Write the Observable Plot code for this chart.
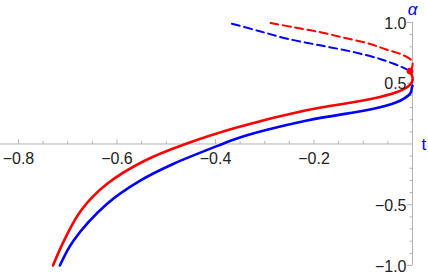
<!DOCTYPE html>
<html>
<head>
<meta charset="utf-8">
<script src="https://cdn.jsdelivr.net/npm/d3@7"></script>
<script src="https://cdn.jsdelivr.net/npm/@observablehq/plot@0.6"></script>
<style>
  html, body { margin: 0; padding: 0; background: white; }
</style>
</head>
<body>
<div id="chart"></div>
<script>
// ---- data (alpha, t) ----
const redSolidA = [-1.0, -0.767, -0.547, -0.328, -0.136, 0.0, 0.138, 0.276, 0.372, 0.43, 0.467, 0.509, 0.55, 0.6];
const redSolidT = [-0.730, -0.704, -0.673, -0.620, -0.543, -0.461, -0.355, -0.218, -0.082, -0.030, -0.011, -0.001, 0.000, -0.005];

const redDashA = [0.6, 0.63, 0.67, 0.70, 0.74, 0.78, 0.825, 0.87, 0.92, 0.96, 0.995];
const redDashT = [-0.005, -0.001, 0.000, -0.005, -0.024, -0.055, -0.087, -0.135, -0.187, -0.240, -0.288];

const blueSolidA = [-1.0, -0.794, -0.492, -0.300, -0.163, 0.0, 0.056, 0.193, 0.290, 0.34, 0.372, 0.42, 0.467, 0.48];
const blueSolidT = [-0.716, -0.688, -0.620, -0.552, -0.485, -0.386, -0.349, -0.214, -0.079, -0.035, -0.018, -0.004, -0.001, 0.000];

const blueDashA = [0.605, 0.63, 0.66, 0.70, 0.756, 0.81, 0.866, 0.93, 0.994];
const blueDashT = [-0.008, -0.020, -0.038, -0.066, -0.119, -0.185, -0.254, -0.312, -0.370];

const markA = [0.6];
const markT = [-0.005];

const xMajor = [-0.8, -0.6, -0.4, -0.2];
const xLabels = ["\u22120.8", "\u22120.6", "\u22120.4", "\u22120.2"];
const xMinor = [-0.75, -0.7, -0.65, -0.55, -0.5, -0.45, -0.35, -0.3, -0.25, -0.15, -0.1, -0.05];
const yMajor = [-1.0, -0.5, 0.5, 1.0];
const yLabels = ["\u22121.0", "\u22120.5", "0.5", "1.0"];
const yMinor = [-0.9, -0.8, -0.7, -0.6, -0.4, -0.3, -0.2, -0.1, 0.1, 0.2, 0.3, 0.4, 0.6, 0.7, 0.8, 0.9];

const xDomain = [-0.8365, 0.0325];
const yDomain = [-1.099, 1.181];

const toPts = (A, T) => A.map((a, i) => ({a, t: T[i]}));

const tickUp = {draw(ctx, size) { const r = Math.sqrt(size / Math.PI); ctx.moveTo(0, 0); ctx.lineTo(0, -r); }};
const tickLeft = {draw(ctx, size) { const r = Math.sqrt(size / Math.PI); ctx.moveTo(0, 0); ctx.lineTo(-r, 0); }};

const axisColor = "#b3b3b3";
const labelColor = "#222";

const chart = Plot.plot({
  width: 428,
  height: 277,
  margin: 0,
  x: {domain: xDomain, axis: null},
  y: {domain: yDomain, axis: null},
  style: {fontFamily: "'Liberation Sans', Arial, sans-serif", fontSize: "16px", background: "white"},
  marks: [
    Plot.ruleY([0], {x1: xDomain[0], x2: 0, stroke: axisColor, strokeWidth: 1}),
    Plot.ruleX([0], {y1: yMajor[0], y2: yMajor[yMajor.length - 1], stroke: axisColor, strokeWidth: 1}),
    Plot.dot(xMajor, {x: d => d, y: 0, symbol: tickUp, r: 4.5, stroke: axisColor, fill: "none", strokeWidth: 1}),
    Plot.dot(xMinor, {x: d => d, y: 0, symbol: tickUp, r: 3, stroke: axisColor, fill: "none", strokeWidth: 1}),
    Plot.dot(yMajor, {x: 0, y: d => d, symbol: tickLeft, r: 5.5, stroke: axisColor, fill: "none", strokeWidth: 1}),
    Plot.dot(yMinor, {x: 0, y: d => d, symbol: tickLeft, r: 3, stroke: axisColor, fill: "none", strokeWidth: 1}),
    Plot.line(toPts(blueSolidA, blueSolidT), {x: "t", y: "a", stroke: "#0000ff", strokeWidth: 2.6, curve: "catmull-rom"}),
    Plot.line(toPts(redSolidA, redSolidT), {x: "t", y: "a", stroke: "#ff0000", strokeWidth: 2.6, curve: "catmull-rom"}),
    Plot.line(toPts(blueDashA, blueDashT), {x: "t", y: "a", stroke: "#0000ff", strokeWidth: 2, strokeDasharray: "8,4.5", curve: "catmull-rom"}),
    Plot.line(toPts(redDashA, redDashT), {x: "t", y: "a", stroke: "#ff0000", strokeWidth: 2, strokeDasharray: "8,4.5", curve: "catmull-rom"}),
    Plot.dot(toPts(markA, markT), {x: "t", y: "a", r: 3.4, fill: "#ff0000", stroke: "none"}),
    Plot.text(xMajor, {x: d => d, y: 0, text: (d, i) => xLabels[i], dy: 15, fill: labelColor, fontSize: 16}),
    Plot.text(yMajor, {x: 0, y: d => d, text: (d, i) => yLabels[i], textAnchor: "end", dx: -6, dy: 1, fill: labelColor, fontSize: 16}),
    Plot.text(["t"], {x: 0, y: 0, text: d => d, textAnchor: "start", dx: 9, dy: 1, fill: "#0000ff", fontSize: 17}),
    Plot.text(["\u03b1"], {x: 0, frameAnchor: "top", text: d => d, dy: 2, fill: "#0000ff", fontSize: 17, fontStyle: "italic"})
  ]
});
document.getElementById("chart").appendChild(chart);
</script>
</body>
</html>
